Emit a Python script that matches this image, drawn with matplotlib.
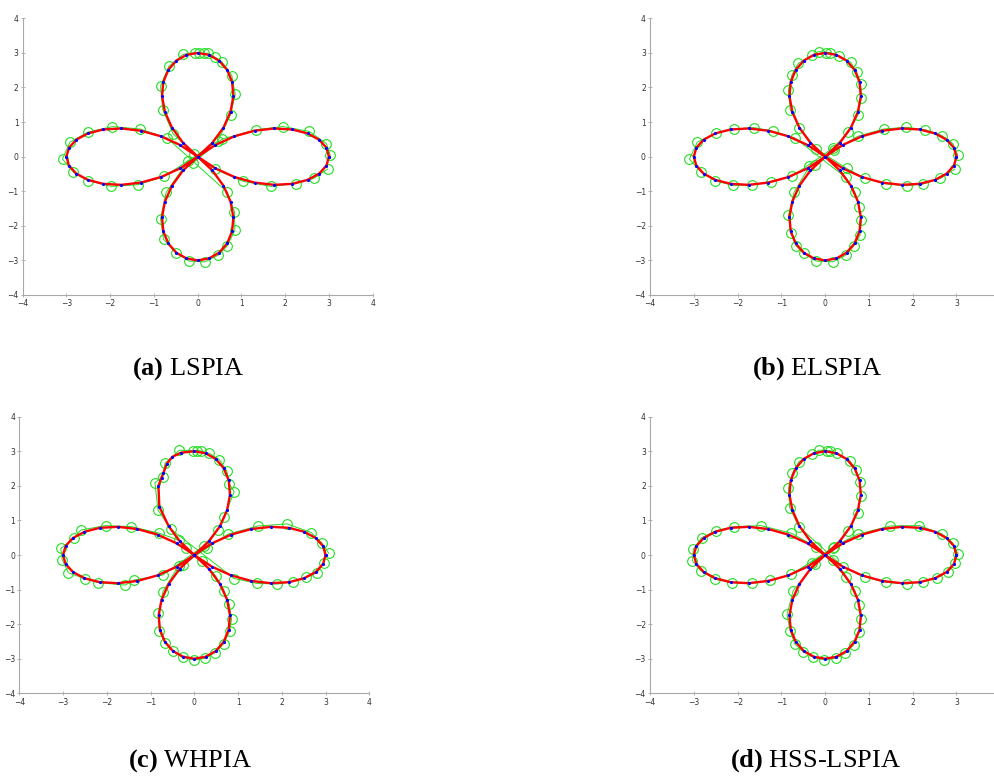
import matplotlib
matplotlib.use('Agg')
import matplotlib.pyplot as plt

plt.rcParams['mathtext.fontset'] = 'custom'
plt.rcParams['mathtext.rm'] = 'Liberation Serif'
plt.rcParams['mathtext.bf'] = 'Liberation Serif:bold'

# fitted curve (red), shared by a, b, d
RED_X = [3.000, 2.943, 2.776, 2.510, 2.160, 1.748, 1.299, 0.840, 0.399, 0.0,
         -0.335, -0.589, -0.750, -0.815, -0.786, -0.672, -0.490, -0.257, 0.0,
         0.257, 0.490, 0.672, 0.786, 0.815, 0.750, 0.589, 0.335, 0.0,
         -0.399, -0.840, -1.299, -1.748, -2.160, -2.510, -2.776, -2.943, -3.000,
         -2.943, -2.776, -2.510, -2.160, -1.748, -1.299, -0.840, -0.399, 0.0,
         0.335, 0.589, 0.750, 0.815, 0.786, 0.672, 0.490, 0.257, 0.0,
         -0.257, -0.490, -0.672, -0.786, -0.815, -0.750, -0.589, -0.335, 0.0,
         0.399, 0.840, 1.299, 1.748, 2.160, 2.510, 2.776, 2.943, 3.000]
RED_Y = [0.000, 0.257, 0.490, 0.672, 0.786, 0.815, 0.750, 0.589, 0.335, 0.0,
         -0.399, -0.840, -1.299, -1.748, -2.160, -2.510, -2.776, -2.943, -3.000,
         -2.943, -2.776, -2.510, -2.160, -1.748, -1.299, -0.840, -0.399, 0.0,
         0.335, 0.589, 0.750, 0.815, 0.786, 0.672, 0.490, 0.257, 0.000,
         -0.257, -0.490, -0.672, -0.786, -0.815, -0.750, -0.589, -0.335, 0.0,
         0.399, 0.840, 1.299, 1.748, 2.160, 2.510, 2.776, 2.943, 3.000,
         2.943, 2.776, 2.510, 2.160, 1.748, 1.299, 0.840, 0.399, 0.0,
         -0.335, -0.589, -0.750, -0.815, -0.786, -0.672, -0.490, -0.257, 0.000]

# WHPIA curve has a kink on the upper-left of the top petal
RED_C_X = [3.000, 2.943, 2.776, 2.510, 2.160, 1.748, 1.299, 0.840, 0.399, 0.0,
           -0.335, -0.589, -0.750, -0.815, -0.786, -0.672, -0.490, -0.257, 0.0,
           0.257, 0.490, 0.672, 0.786, 0.815, 0.750, 0.589, 0.335, 0.0,
           -0.399, -0.840, -1.299, -1.748, -2.160, -2.510, -2.776, -2.943, -3.000,
           -2.943, -2.776, -2.510, -2.160, -1.748, -1.299, -0.840, -0.399, 0.0,
           0.335, 0.589, 0.750, 0.815, 0.786, 0.672, 0.490, 0.257, 0.0,
           -0.30, -0.50, -0.63, -0.71, -0.75, -0.82, -0.80, -0.589, -0.335, 0.0,
           0.399, 0.840, 1.299, 1.748, 2.160, 2.510, 2.776, 2.943, 3.000]
RED_C_Y = [0.000, 0.257, 0.490, 0.672, 0.786, 0.815, 0.750, 0.589, 0.335, 0.0,
           -0.399, -0.840, -1.299, -1.748, -2.160, -2.510, -2.776, -2.943, -3.000,
           -2.943, -2.776, -2.510, -2.160, -1.748, -1.299, -0.840, -0.399, 0.0,
           0.335, 0.589, 0.750, 0.815, 0.786, 0.672, 0.490, 0.257, 0.000,
           -0.257, -0.490, -0.672, -0.786, -0.815, -0.750, -0.589, -0.335, 0.0,
           0.399, 0.840, 1.299, 1.748, 2.160, 2.510, 2.776, 2.943, 3.000,
           2.96, 2.84, 2.64, 2.36, 2.24, 2.00, 1.40, 0.840, 0.399, 0.0,
           -0.335, -0.589, -0.750, -0.815, -0.786, -0.672, -0.490, -0.257, 0.000]

# noisy data points (green circles)
GA_X = [3.03, 2.94, 2.55, 1.95, 1.33, 0.56,
        -0.11, -0.22, -0.72, -0.85, -0.78, -0.49, -0.20,
        0.17, 0.47, 0.67, 0.85, 0.84, 0.68,
        -0.70, -1.32, -1.95, -2.51, -2.92, -3.09,
        -2.84, -2.51, -1.98, -1.36, -0.76,
        0.46, 0.75, 0.86, 0.78, 0.55, 0.39, 0.23, 0.15,
        0.04, -0.07, -0.33, -0.66, -0.85, -0.80, -0.56, -0.09,
        0.40, 1.03, 1.67, 2.24, 2.65, 2.97]
GA_Y = [0.05, 0.38, 0.73, 0.87, 0.78, 0.51,
        -0.18, -0.12, -1.03, -1.80, -2.39, -2.78, -3.02,
        -3.04, -2.85, -2.59, -2.13, -1.59, -1.03,
        0.54, 0.80, 0.87, 0.71, 0.42, -0.07,
        -0.45, -0.69, -0.86, -0.81, -0.57,
        0.45, 1.21, 1.80, 2.34, 2.75, 2.88, 2.99, 2.99,
        3.01, 3.01, 2.96, 2.61, 2.05, 1.36, 0.66, 0.09,
        -0.36, -0.71, -0.86, -0.78, -0.63, -0.36]

GB_X = [3.03, 2.92, 2.67, 2.29, 1.85, 1.34, 0.75, 0.21,
        -0.23, -0.36, -0.71, -0.84, -0.78, -0.67, -0.49, -0.21,
        0.18, 0.47, 0.65, 0.80, 0.83, 0.78, 0.68, 0.47,
        -0.69, -1.20, -1.63, -2.09, -2.50, -2.92, -3.10,
        -2.83, -2.51, -2.11, -1.67, -1.24, -0.76,
        0.17, 0.53, 0.75, 0.83, 0.81, 0.72, 0.58, 0.32, 0.11,
        0.03, -0.15, -0.29, -0.61, -0.76, -0.84, -0.80, -0.59, -0.21,
        0.49, 0.91, 1.40, 1.86, 2.24, 2.63, 2.96]
GB_Y = [0.04, 0.38, 0.61, 0.78, 0.85, 0.80, 0.59, 0.20,
        -0.24, -0.28, -1.03, -1.70, -2.20, -2.57, -2.80, -3.02,
        -3.04, -2.85, -2.59, -2.26, -1.84, -1.45, -1.03, -0.60,
        0.54, 0.74, 0.84, 0.80, 0.68, 0.42, -0.07,
        -0.45, -0.70, -0.83, -0.82, -0.72, -0.57,
        0.24, 0.70, 1.21, 1.71, 2.11, 2.46, 2.73, 2.92, 3.01,
        3.01, 3.04, 2.94, 2.70, 2.36, 1.93, 1.36, 0.84, 0.23,
        -0.34, -0.63, -0.79, -0.84, -0.79, -0.63, -0.36]

GC_X = [3.07, 2.92, 2.67, 2.12, 1.46, 0.78, 0.30,
        -0.27, -0.36, -0.72, -0.82, -0.80, -0.67, -0.49, -0.27, 0.00,
        0.24, 0.48, 0.67, 0.81, 0.85, 0.80, 0.68, 0.49, 0.17,
        -0.20, -0.36, -0.80, -1.44, -2.03, -2.60, -2.75, -3.05,
        -3.02, -2.88, -2.50, -2.19, -1.58, -1.37, -0.72,
        0.21, 0.53, 0.68, 0.91, 0.80, 0.74, 0.57, 0.34, 0.15,
        0.06, -0.04, -0.34, -0.67, -0.72, -0.90, -0.83, -0.53,
        0.91, 1.43, 1.90, 2.26, 2.56, 2.81, 2.96]
GC_Y = [0.05, 0.34, 0.65, 0.90, 0.84, 0.61, 0.21,
        -0.29, -0.31, -1.06, -1.69, -2.19, -2.55, -2.77, -2.96, -3.03,
        -2.99, -2.82, -2.57, -2.19, -1.86, -1.43, -1.03, -0.61, -0.17,
        0.21, 0.43, 0.63, 0.82, 0.85, 0.72, 0.48, 0.19,
        -0.13, -0.51, -0.69, -0.80, -0.87, -0.72, -0.58,
        0.26, 0.72, 1.09, 1.83, 2.05, 2.44, 2.76, 2.94, 3.01,
        3.02, 3.02, 3.03, 2.65, 2.26, 2.09, 1.30, 0.74,
        -0.68, -0.82, -0.84, -0.77, -0.65, -0.51, -0.22]

GD_X = [3.04, 2.91, 2.67, 2.15, 1.49, 0.74, 0.20,
        -0.30, -0.24, -0.73, -0.87, -0.80, -0.69, -0.50, -0.27, -0.02,
        0.24, 0.46, 0.65, 0.78, 0.82, 0.78, 0.68, 0.48, 0.17,
        -0.22, -0.77, -1.47, -2.08, -2.50, -2.82, -3.01,
        -3.03, -2.84, -2.52, -2.12, -1.68, -1.25, -0.77,
        0.18, 0.52, 0.75, 0.82, 0.79, 0.71, 0.56, 0.26, 0.11,
        0.05, -0.14, -0.30, -0.60, -0.75, -0.84, -0.81, -0.60,
        0.41, 0.90, 1.40, 1.87, 2.23, 2.55, 2.80, 2.97]
GD_Y = [0.03, 0.36, 0.61, 0.85, 0.84, 0.60, 0.24,
        -0.22, -0.27, -1.03, -1.72, -2.19, -2.58, -2.80, -2.96, -3.03,
        -2.99, -2.84, -2.60, -2.23, -1.85, -1.45, -1.03, -0.63, -0.14,
        0.24, 0.63, 0.85, 0.82, 0.70, 0.50, 0.17,
        -0.17, -0.46, -0.70, -0.80, -0.82, -0.73, -0.56,
        0.21, 0.69, 1.22, 1.71, 2.11, 2.46, 2.73, 2.94, 3.02,
        3.02, 3.03, 2.92, 2.70, 2.36, 1.93, 1.37, 0.82,
        -0.34, -0.63, -0.79, -0.84, -0.77, -0.66, -0.50, -0.24]

panels = [
    ('(a)', 'LSPIA', GA_X, GA_Y, RED_X, RED_Y, [0.0228, 0.6218, 0.3518, 0.3547], 4.0, (0.189, 0.527)),
    ('(b)', 'ELSPIA', GB_X, GB_Y, RED_X, RED_Y, [0.6533, 0.6218, 0.3467, 0.3547], 3.88, (0.821, 0.527)),
    ('(c)', 'WHPIA', GC_X, GC_Y, RED_C_X, RED_C_Y, [0.0194, 0.1111, 0.3518, 0.3547], 4.0, (0.191, 0.025)),
    ('(d)', 'HSS-LSPIA', GD_X, GD_Y, RED_X, RED_Y, [0.6533, 0.1111, 0.3467, 0.3547], 3.88, (0.820, 0.025)),
]

fig = plt.figure(figsize=(9.95, 7.8), dpi=100)

for tag, name, gx, gy, rx, ry, pos, xmax, cap in panels:
    ax = fig.add_axes(pos)
    ax.plot(gx, gy, '-o', color='#22dd22', lw=0.7, ms=7, mfc='none', mew=0.8)
    ax.plot(rx, ry, color='red', lw=1.7)
    ax.plot(rx, ry, '.', color='blue', ms=2.5)
    ax.set_xlim(-4, xmax)
    ax.set_ylim(-4, 4)
    ax.set_xticks(range(-4, int(xmax) + 1))
    ax.set_yticks(range(-4, 5))
    for s in ['top', 'right']:
        ax.spines[s].set_visible(False)
    for s in ['left', 'bottom']:
        ax.spines[s].set_color('#a8a8a8')
        ax.spines[s].set_linewidth(0.8)
    ax.tick_params(direction='inout', length=3, width=0.6, color='#a8a8a8',
                   labelsize=5.5, labelcolor='#333333', pad=1.5)
    fig.text(cap[0], cap[1], r'$\mathbf{' + tag + r'}$ ' + name, ha='center', va='center',
             family='Liberation Serif', fontsize=19)

fig.savefig('out.png', dpi=100)
